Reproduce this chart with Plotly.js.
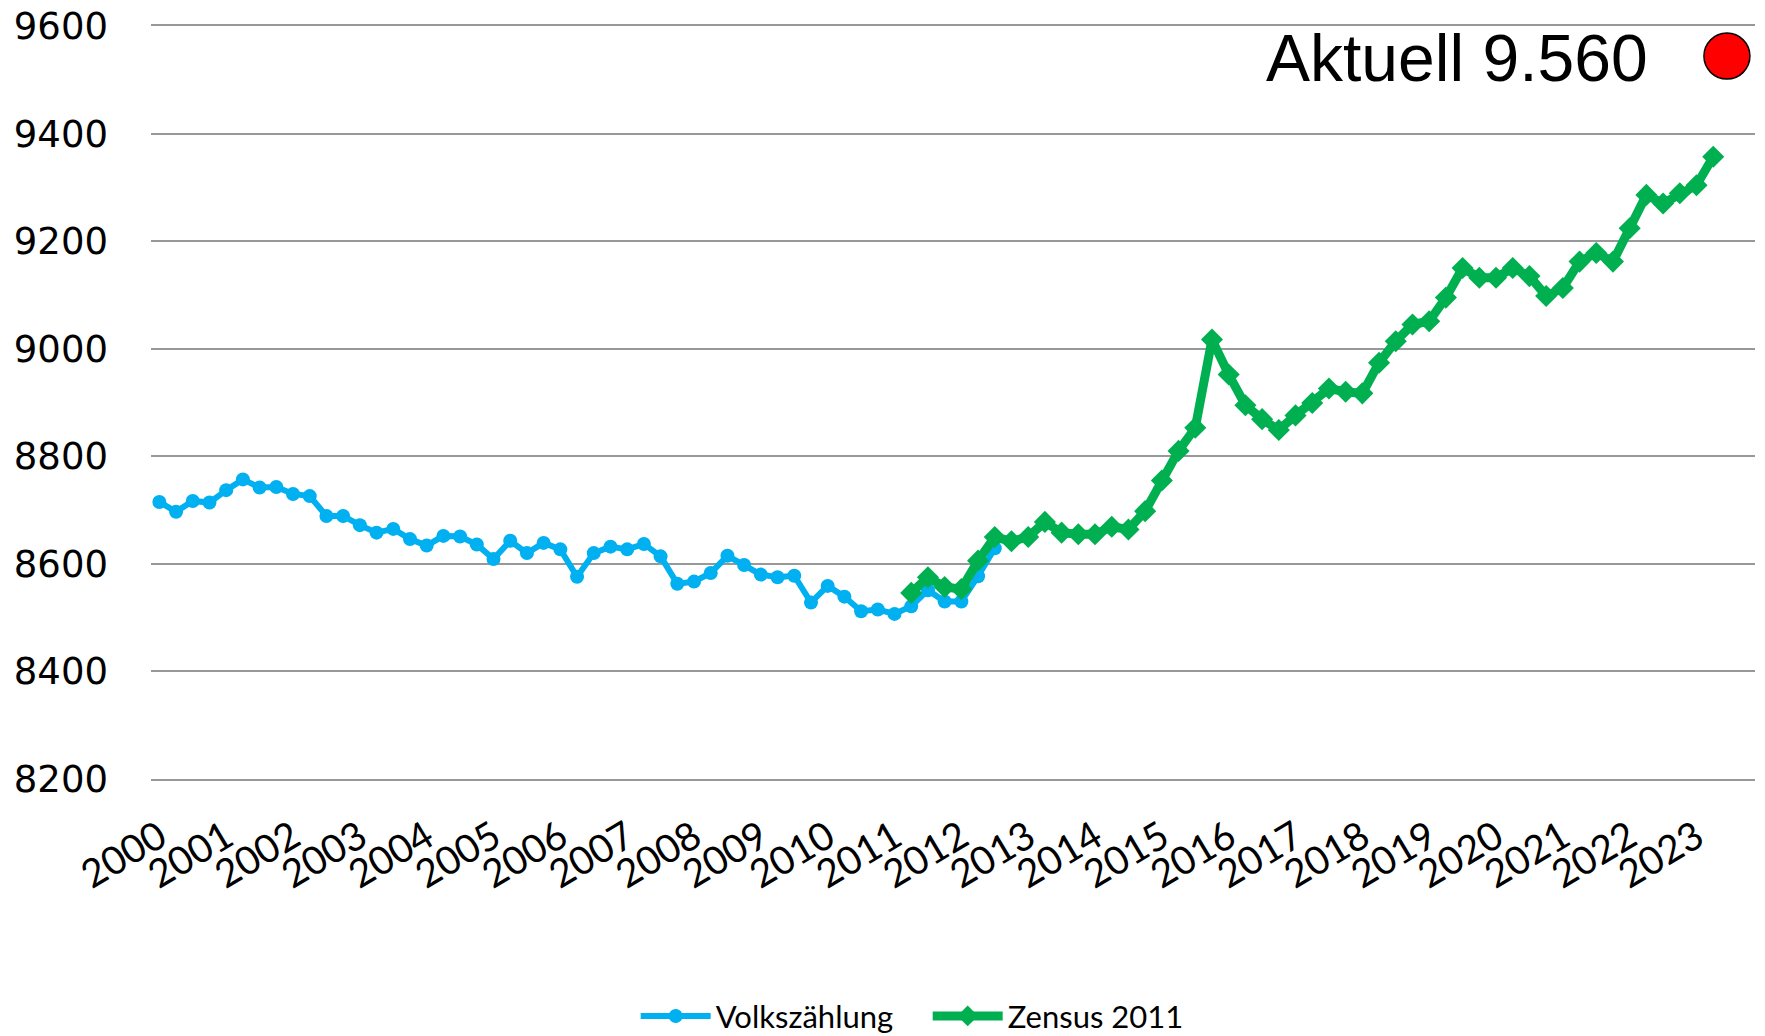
<!DOCTYPE html>
<html>
<head>
<meta charset="utf-8">
<script src="https://cdn.plot.ly/plotly-3.0.1.min.js"></script>
<style>
  html, body { margin: 0; padding: 0; background: #ffffff; }
  #chart { width: 1765px; height: 1036px; }
</style>
</head>
<body>
<div id="chart"></div>
<script>
// ---- data ----
const years = ["2000","2001","2002","2003","2004","2005","2006","2007","2008","2009","2010","2011",
               "2012","2013","2014","2015","2016","2017","2018","2019","2020","2021","2022","2023"];
const quarters = ["Q1","Q2","Q3","Q4"];

// quarterly categories 2000-Q1 ... 2023-Q4
const categories = [];
years.forEach(y => quarters.forEach(q => categories.push(y + "-" + q)));

// Volkszählung: 2000-Q1 ... 2012-Q3
const volkszaehlung = [
  8715, 8697, 8717, 8714, 8737, 8757, 8742, 8743, 8730, 8726,
  8689, 8689, 8672, 8658, 8665, 8646, 8634, 8652, 8651, 8636,
  8609, 8643, 8620, 8639, 8627, 8576, 8620, 8632, 8627, 8637,
  8614, 8563, 8567, 8583, 8615, 8598, 8580, 8575, 8578, 8528,
  8559, 8539, 8512, 8515, 8507, 8521, 8551, 8530, 8530, 8577,
  8629
];
const volkszaehlungStart = "2000-Q1";

// Zensus 2011: 2011-Q2 ... 2023-Q2
const zensus2011 = [
  8546, 8575, 8557, 8553, 8606, 8650, 8642, 8650, 8678, 8658,
  8655, 8655, 8669, 8664, 8698, 8755, 8810, 8853, 9017, 8952,
  8895, 8869, 8849, 8876, 8899, 8926, 8920, 8917, 8974, 9014,
  9045, 9051, 9095, 9150, 9132, 9132, 9150, 9135, 9098, 9113,
  9162, 9178, 9162, 9224, 9286, 9270, 9289, 9304, 9357
];
const zensusStart = "2011-Q2";

const seriesNames = ["Volkszählung", "Zensus 2011"];
const yTicks = [8200, 8400, 8600, 8800, 9000, 9200, 9400, 9600];
const currentLabel = "Aktuell 9.560";

// ---- build traces ----
const i0 = categories.indexOf(volkszaehlungStart);
const i1 = categories.indexOf(zensusStart);
const xBlue = categories.slice(i0, i0 + volkszaehlung.length);
const xGreen = categories.slice(i1, i1 + zensus2011.length);

const traces = [
  {
    type: "scatter", mode: "lines+markers",
    name: seriesNames[0],
    x: xBlue, y: volkszaehlung,
    line: { color: "#00B0F0", width: 6 },
    marker: { color: "#00B0F0", size: 14, symbol: "circle" }
  },
  {
    type: "scatter", mode: "lines+markers",
    name: seriesNames[1],
    x: xGreen, y: zensus2011,
    line: { color: "#00B050", width: 9 },
    marker: { color: "#00B050", size: 17, symbol: "diamond" }
  }
];

const tickCats = years.map(y => y + "-Q1");

const layout = {
  width: 1765, height: 1036,
  margin: { l: 151, r: 10, t: 26, b: 257, autoexpand: false },
  paper_bgcolor: "#ffffff",
  plot_bgcolor: "#ffffff",
  showlegend: true,
  xaxis: {
    type: "category",
    categoryorder: "array",
    categoryarray: categories,
    range: [-0.5, categories.length - 0.5],
    tickmode: "array",
    tickvals: tickCats,
    ticktext: years,
    tickangle: -31,
    ticks: "",
    ticklabelstandoff: 18,
    showgrid: false,
    zeroline: false,
    showline: true,
    mirror: true,
    linecolor: "#989898",
    linewidth: 2,
    automargin: false,
    tickfont: { family: "Lato, 'Open Sans', sans-serif", size: 39, color: "#000000" }
  },
  yaxis: {
    range: [8200, 9600],
    tickmode: "array",
    tickvals: yTicks,
    ticktext: yTicks.map(String),
    ticks: "",
    ticklabelstandoff: 42,
    showgrid: true,
    gridcolor: "#989898",
    gridwidth: 2,
    zeroline: false,
    showline: false,
    automargin: false,
    tickfont: { family: "'DejaVu Sans', sans-serif", size: 37, color: "#000000" }
  },
  legend: {
    orientation: "h",
    xref: "container", yref: "container",
    x: 0.5256, xanchor: "center",
    y: 0.019, yanchor: "middle",
    font: { family: "Lato, 'Open Sans', sans-serif", size: 31, color: "#000000" },
    itemwidth: 70,
    entrywidth: 207,
    traceorder: "normal",
    bgcolor: "rgba(0,0,0,0)"
  },
  annotations: [
    {
      text: currentLabel,
      xref: "paper", yref: "paper",
      x: 0.9345, y: 0.9575,
      xanchor: "right", yanchor: "middle",
      showarrow: false,
      font: { family: "'Liberation Sans', Arial, sans-serif", size: 66, color: "#000000" }
    }
  ],
  shapes: [
    {
      type: "circle",
      xref: "paper", yref: "paper",
      xsizemode: "pixel", ysizemode: "pixel",
      xanchor: 0.9825, yanchor: 0.960,
      x0: -23, x1: 23, y0: -23, y1: 23,
      fillcolor: "#FF0000",
      line: { color: "#000000", width: 1.5 }
    }
  ]
};

Plotly.newPlot("chart", traces, layout, { displayModeBar: false, staticPlot: true });
</script>
</body>
</html>
